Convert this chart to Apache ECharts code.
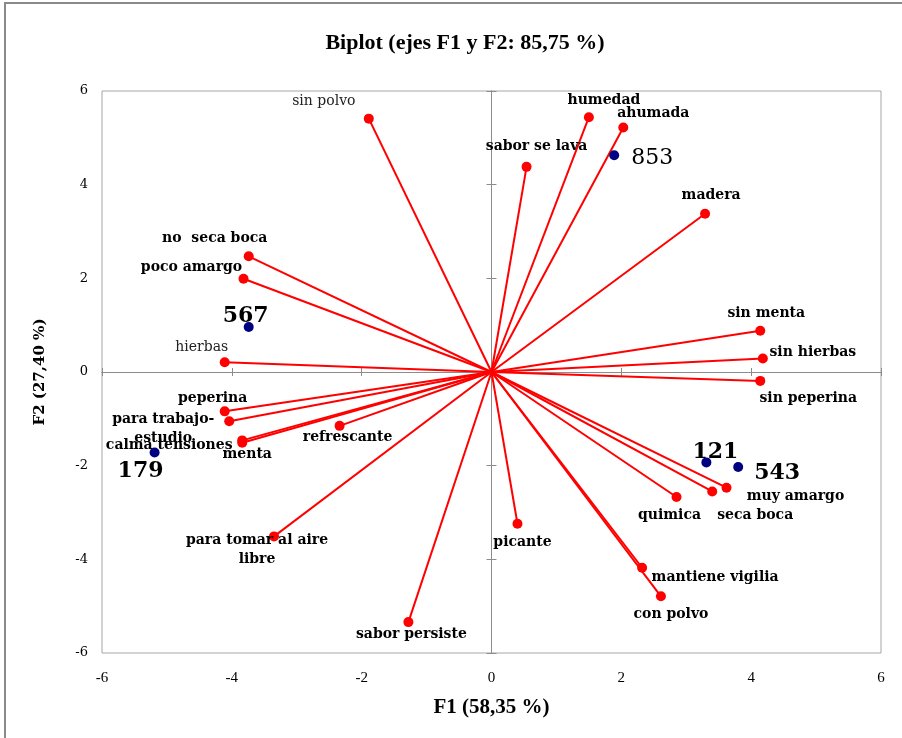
<!DOCTYPE html>
<html>
<head>
<meta charset="utf-8">
<script src="https://cdn.jsdelivr.net/npm/echarts@6/dist/echarts.min.js"></script>
<style>
html,body{margin:0;padding:0;background:#fff;}
#chart{width:902px;height:738px;}
</style>
</head>
<body>
<div id="chart"></div>
<script>
// ---- data ----
var varNames = ['sin polvo','humedad','ahumada','sabor se lava','madera','no  seca boca','poco amargo','hierbas',
  'sin menta','sin hierbas','sin peperina','peperina','para trabajo-\nestudio','calma tensiones','menta','refrescante',
  'para tomar al aire\nlibre','sabor persiste','picante','quimica','seca boca','muy amargo','mantiene vigilia','con polvo'];
var varX = [-1.89, 1.50, 2.03, 0.54, 3.29, -3.74, -3.82, -4.11, 4.14, 4.18, 4.14, -4.11, -4.04, -3.84, -3.84, -2.34,
  -3.35, -1.28, 0.40, 2.85, 3.40, 3.62, 2.32, 2.61];
var varY = [5.41, 5.44, 5.22, 4.38, 3.38, 2.47, 1.99, 0.21, 0.88, 0.29, -0.19, -0.84, -1.05, -1.46, -1.51, -1.15,
  -3.51, -5.34, -3.24, -2.67, -2.55, -2.47, -4.18, -4.79];
var scoreNames = ['853','567','179','121','543'];
var scoreX = [1.89, -3.74, -5.19, 3.31, 3.80];
var scoreY = [4.63, 0.96, -1.72, -1.93, -2.03];
var tickMin = -6, tickMax = 6, tickStep = 2;
var titleText = 'Biplot (ejes F1 y F2: 85,75 %)';
var xName = 'F1 (58,35 %)';
var yName = 'F2 (27,40 %)';

// ---- label placement (style only) ----
var varLabelOffsets = [[-45,-17],[15,-17],[30,-14],[10,-21],[6,-18],[-34,-18],[-52,-11],[-23,-15],
  [6,-17],[50,-6],[48,17],[-12,-13],[-66,8],[-73,5],[5,12],[8,12],
  [-17,13],[3,12],[5,19],[-7,18],[43,24],[69,9],[73,10],[10,18]];
var varLightLabels = ['sin polvo','hierbas'];
var scoreLabelOffsets = [[38,3],[-3,-11],[-14,19],[9,-10],[39,6]];

var chart = echarts.init(document.getElementById('chart'), null, {renderer:'canvas'});

var gridColor = '#a6a6a6';
var axisColor = '#8c8c8c';
var textColor = '#000000';
function baseX(extra){ return Object.assign({type:'value', min:tickMin, max:tickMax, interval:tickStep,
  splitLine:{show:false}}, extra); }
function baseY(extra){ return Object.assign({type:'value', min:tickMin, max:tickMax, interval:tickStep,
  splitLine:{show:false}}, extra); }

var option = {
  backgroundColor:'#ffffff',
  animation:false,
  title:{text:titleText, left:460, top:27, textAlign:'center',
    textStyle:{fontFamily:'Liberation Serif', fontWeight:'bold', fontSize:22, color:textColor}},
  grid:{left:102, right:21, top:91, bottom:85, show:true, borderColor:gridColor, borderWidth:1, backgroundColor:'transparent'},
  xAxis:[
    baseX({position:'bottom', axisLine:{show:false, onZero:false}, axisTick:{show:false},
      axisLabel:{margin:18, fontFamily:'Liberation Serif', fontSize:15, color:textColor},
      name:xName, nameLocation:'middle', nameGap:44,
      nameTextStyle:{fontFamily:'Liberation Serif', fontWeight:'bold', fontSize:21, color:textColor}}),
    baseX({position:'bottom', axisLine:{show:true, onZero:true, onZeroAxisIndex:0, lineStyle:{color:axisColor,width:1}},
      axisTick:{show:true, inside:true, length:4, lineStyle:{color:axisColor}}, axisLabel:{show:false}}),
    baseX({position:'bottom', axisLine:{show:true, onZero:true, onZeroAxisIndex:0, lineStyle:{color:axisColor,width:1}},
      axisTick:{show:true, inside:false, length:4, lineStyle:{color:axisColor}}, axisLabel:{show:false}})
  ],
  yAxis:[
    baseY({position:'left', axisLine:{show:false, onZero:false}, axisTick:{show:false},
      axisLabel:{margin:14, fontFamily:'DejaVu Serif', fontSize:13, color:textColor},
      name:yName, nameLocation:'middle', nameGap:54, nameRotate:90,
      nameTextStyle:{fontFamily:'DejaVu Serif', fontWeight:'bold', fontSize:15, color:textColor}}),
    baseY({position:'left', axisLine:{show:true, onZero:true, onZeroAxisIndex:0, lineStyle:{color:axisColor,width:1}},
      axisTick:{show:true, inside:true, length:5, lineStyle:{color:axisColor}}, axisLabel:{show:false}}),
    baseY({position:'left', axisLine:{show:true, onZero:true, onZeroAxisIndex:0, lineStyle:{color:axisColor,width:1}},
      axisTick:{show:true, inside:false, length:5, lineStyle:{color:axisColor}}, axisLabel:{show:false}})
  ],
  graphic:[{type:'rect', shape:{x:5, y:3, width:910, height:760}, silent:true,
    style:{fill:'none', stroke:'#8a8a8a', lineWidth:2}}],
  series:[
    {type:'lines', coordinateSystem:'cartesian2d', xAxisIndex:0, yAxisIndex:0, z:2, silent:true,
      lineStyle:{color:'#ff0000', width:2, opacity:1},
      data: varX.map(function(x,i){ return {coords:[[0,0],[x,varY[i]]]}; })},
    {type:'scatter', xAxisIndex:0, yAxisIndex:0, z:3, symbolSize:10, silent:true,
      itemStyle:{color:'#ff0000', opacity:1},
      label:{show:true, position:'inside', align:'center', verticalAlign:'middle', opacity:1,
        fontFamily:'DejaVu Serif', fontWeight:'bold', fontSize:14, lineHeight:19, color:textColor,
        textBorderWidth:0,
        formatter:function(p){ return p.name; }},
      data: varX.map(function(x,i){
        var light = varLightLabels.indexOf(varNames[i]) >= 0;
        return {name:varNames[i], value:[x,varY[i]],
          label:{offset:varLabelOffsets[i], fontWeight: light ? 'normal' : 'bold', color: light ? '#222' : textColor}};
      })},
    {type:'scatter', xAxisIndex:0, yAxisIndex:0, z:4, symbolSize:10, silent:true,
      itemStyle:{color:'#000080', opacity:1},
      label:{show:true, position:'inside', align:'center', verticalAlign:'middle', opacity:1,
        fontFamily:'DejaVu Serif', fontWeight:'bold', fontSize:22, color:textColor, textBorderWidth:0,
        formatter:function(p){ return p.name; }},
      data: scoreX.map(function(x,i){
        return {name:scoreNames[i], value:[x,scoreY[i]], label:{offset:scoreLabelOffsets[i],
          fontWeight: scoreNames[i]==='853' ? 'normal' : 'bold'}};
      })}
  ]
};
chart.setOption(option);
</script>
</body>
</html>
